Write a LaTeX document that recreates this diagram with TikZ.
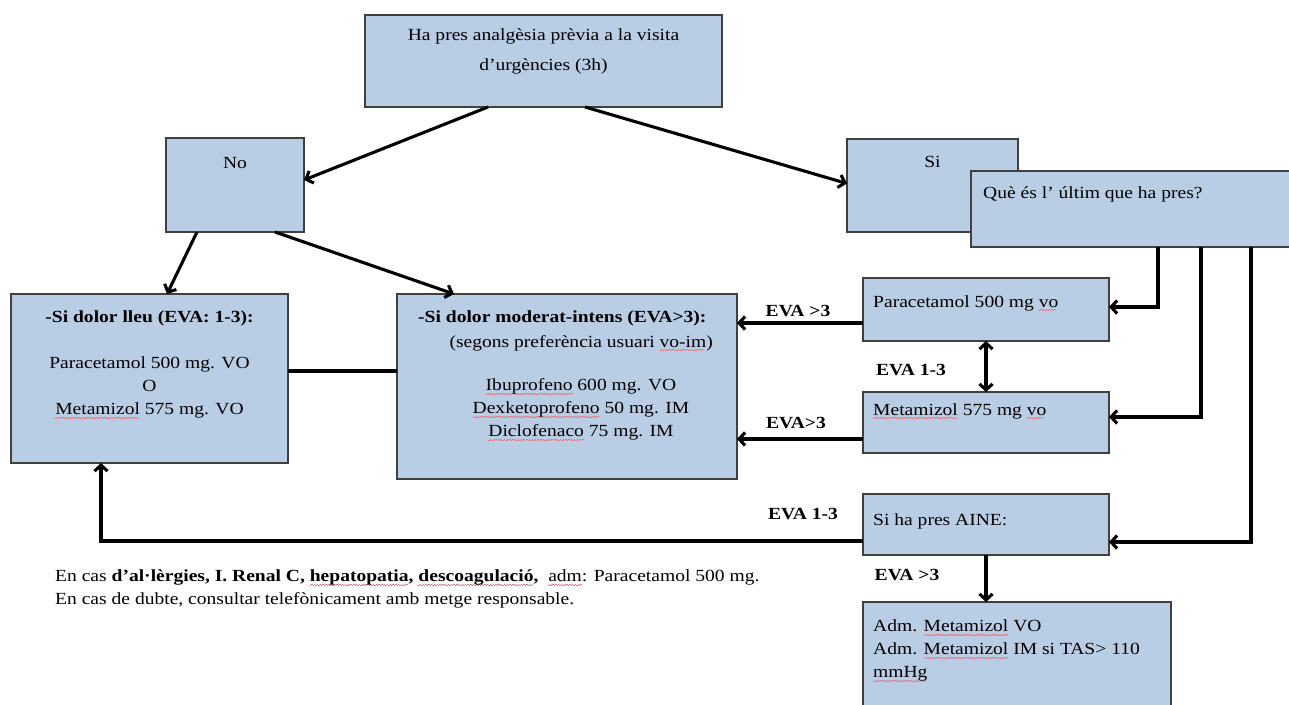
\documentclass[tikz,border=0pt]{standalone}
\usepackage{fontspec}
\setmainfont[FakeStretch=1.15]{Liberation Serif}
\usetikzlibrary{arrows.meta,calc}
\definecolor{boxfill}{RGB}{185,205,229}
\definecolor{boxline}{RGB}{64,64,64}
\definecolor{spell}{RGB}{232,110,120}
\newcommand\bx[5]{\node[box,anchor=north west,minimum width={#4-#2},minimum height={#5-#3}] (#1) at (#2,#3) {};}
\newsavebox\splbox
\newcommand\spl[1]{\sbox\splbox{#1}\rlap{\color{spell}\leaders\hbox{\rule[-3.8pt]{1.4pt}{0.45pt}\rule[-2.8pt]{1.4pt}{0.45pt}}\hskip\wd\splbox}\usebox\splbox}
\begin{document}
\begin{tikzpicture}[x=1pt,y=-1pt,
  box/.style={draw=boxline,line width=1.4pt,fill=boxfill,inner sep=0pt,outer sep=0pt},
  txt/.style={inner sep=0pt,font=\fontsize{17}{23}\selectfont},
  lbl/.style={inner sep=0pt,font=\fontsize{17}{23}\selectfont\bfseries},
  ln/.style={line width=3.1pt,black},
  arr/.style={ln,-{Straight Barb[length=6pt,width=13pt]}},
  darr/.style={ln,{Straight Barb[length=6pt,width=13pt]}-{Straight Barb[length=6pt,width=13pt]}}]
\useasboundingbox (0,0) rectangle (1289,704);
\fill[white] (0,0) rectangle (1289,704);
% boxes
\bx{top}{365}{15}{722}{107}
\bx{no}{166}{138}{304}{232}
\bx{si}{847}{139}{1018}{232}
\bx{qu}{971}{171}{1290}{247}
\bx{lft}{11}{294}{288}{463}
\bx{mid}{397}{294}{737}{479}
\bx{par}{863}{278}{1109}{341}
\bx{met}{863}{392}{1109}{453}
\bx{aine}{863}{494}{1109}{555}
\bx{adm}{863}{602}{1171}{708}
% texts
\node[txt,align=center,anchor=north] (ttop) at (543.5,24) {\strut Ha pres analgèsia prèvia a la visita\\[7pt] d’urgències (3h)};
\node[txt,anchor=base] (tno) at (235,168) {No};
\node[txt,anchor=base] (tsi) at (932.5,167) {Si};
\node[txt,anchor=base west] (tqu) at (983,198) {Què és l’ últim que ha pres?};
\node[txt,align=center,anchor=north] (tlft) at (149.5,306) {\strut\textbf{-Si dolor lleu (EVA: 1-3):}\\[23pt] Paracetamol 500 mg. VO\\ O\\ \spl{Metamizol} 575 mg. VO};
\node[txt,anchor=base west,font=\fontsize{17}{23}\selectfont\bfseries] (tmid1) at (418,322) {-Si dolor moderat-intens (EVA>3):};
\node[txt,anchor=base east] (tmid2) at (713,347) {(segons preferència usuari \spl{vo-im})};
\node[txt,align=center,anchor=north] (tmid3) at (581,374) {\strut \spl{Ibuprofeno} 600 mg. VO\\ \spl{Dexketoprofeno} 50 mg. IM\\ \spl{Diclofenaco} 75 mg. IM};
\node[txt,anchor=base west] (tpar) at (873,307) {Paracetamol 500 mg \spl{vo}};
\node[txt,anchor=base west] (tmet) at (873,415) {\spl{Metamizol} 575 mg \spl{vo}};
\node[txt,anchor=base west] (taine) at (873,525) {Si ha pres AINE:};
\node[txt,align=left,anchor=north west] (tadm) at (873,615) {\strut Adm. \spl{Metamizol} VO\\ Adm. \spl{Metamizol} IM si TAS> 110\\ \spl{mmHg}};
\node[txt,align=left,anchor=north west] (foot) at (55,565) {\strut En cas \textbf{d’al·lèrgies, I. Renal C, \spl{hepatopatia}, \spl{descoagulació},} \ \spl{adm}: Paracetamol 500 mg.\\ En cas de dubte, consultar telefònicament amb metge responsable.};
% labels
\node[lbl] (l1) at (798,311) {EVA >3};
\node[lbl] (l2) at (796,423) {EVA>3};
\node[lbl] (l3) at (911,370) {EVA 1-3};
\node[lbl] (l4) at (803,514) {EVA 1-3};
\node[lbl] (l5) at (907,575) {EVA >3};
% connectors
\draw[arr] ([xshift=123pt]top.south west) -- ([yshift=5pt]no.east);
\draw[arr] ([xshift=220pt]top.south west) -- ([yshift=2pt]si.west);
\draw[arr] ([xshift=31pt]no.south west) -- ([xshift=156pt]lft.north west);
\draw[arr] ([xshift=109pt]no.south west) -- ([xshift=57pt]mid.north west);
\draw[ln] ([yshift=7.5pt]lft.east) -- ([yshift=7.5pt]lft.east -| mid.west);
\draw[arr] ([yshift=-13.5pt]par.west) -- ([yshift=-13.5pt]par.west -| mid.east);
\draw[arr] ([yshift=-16.5pt]met.west) -- ([yshift=-16.5pt]met.west -| mid.east);
\draw[darr] (par.south) -- (met.north);
\draw[arr] ([xshift=187pt]qu.south west) |- ([yshift=2.5pt]par.east);
\draw[arr] ([xshift=230pt]qu.south west) |- ([yshift=5.5pt]met.east);
\draw[arr] ([xshift=280pt]qu.south west) |- ([yshift=-17.5pt]aine.east);
\draw[arr] ([yshift=-16.5pt]aine.west) -| ([xshift=90pt]lft.south west);
\draw[arr] (aine.south) -- (aine.south |- adm.north);
\end{tikzpicture}
\end{document}
